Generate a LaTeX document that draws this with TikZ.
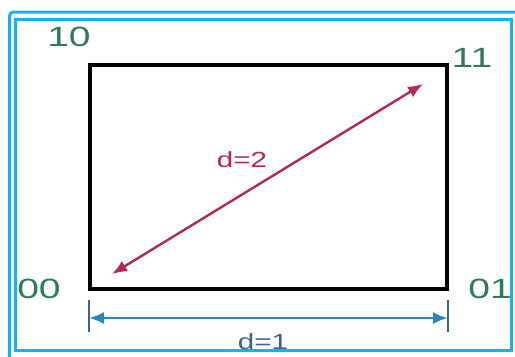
\documentclass[tikz,border=0pt]{standalone}
\usepackage{fontspec}
\setmainfont{Liberation Sans}
\usetikzlibrary{arrows.meta}
\definecolor{frameblue}{HTML}{0FB5EE}
\definecolor{labgreen}{HTML}{2E7B5C}
\definecolor{diagred}{HTML}{B3285C}
\definecolor{dimblue}{HTML}{2A86BD}
\definecolor{tickblue}{HTML}{3E6386}
\tikzset{
  corner/.style={text=labgreen, font=\fontsize{28}{30}\selectfont, inner sep=0pt, xscale=1.4},
  dlabel/.style={font=\fontsize{22}{24}\selectfont, inner sep=0pt, xscale=1.35}
}
\begin{document}
\begin{tikzpicture}[x=1bp, y=-1bp, >={Latex[length=15bp,width=12bp]}]
\useasboundingbox (0,0) rectangle (515,356);
% frame
\draw[frameblue, line width=3bp, rounded corners=4bp](9.5,12)rectangle(530,370);
\draw[frameblue, line width=3bp](15,19)rectangle(511,350);
% square
\coordinate (c10) at (90,65);
\coordinate (c11) at (447,65);
\coordinate (c00) at (90,289);
\coordinate (c01) at (447,289);
\draw[line width=4.5bp, line join=miter](c00)--(c10)--(c11)--(c01)--cycle;
\node[corner] (l10) at (69,37){10};
\node[corner] (l11) at (472,58){11};
\node[corner] (l00) at (39,289){00};
\node[corner] (l01) at (490,289){01};
% diagonal
\coordinate (dA) at (112,274);
\coordinate (dB) at (423,84);
\draw[<->, diagred, line width=2.4bp](dA)--(dB);
\node[dlabel, text=diagred] (d2) at (242,160){d=2};
% width
\coordinate (tA) at (89,300);
\coordinate (tB) at (448,300);
\draw[tickblue, line width=2.4bp](tA)--++(0,32);
\draw[tickblue, line width=2.4bp](tB)--++(0,32);
\draw[<->, dimblue, line width=2.4bp]([yshift=-18bp]tA)--([yshift=-18bp]tB);
\node[dlabel, text=tickblue] (d1) at (263,342){d=1};
\end{tikzpicture}
\end{document}
